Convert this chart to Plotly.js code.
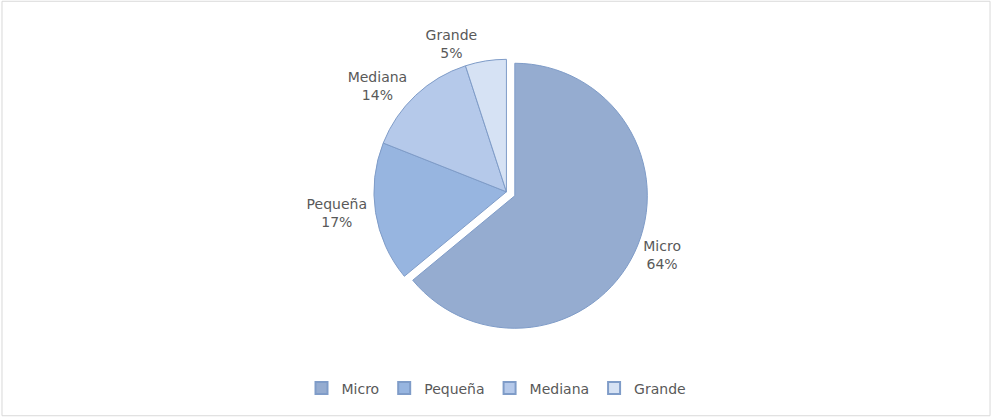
<!DOCTYPE html>
<html>
<head>
<meta charset="utf-8">
<script src="https://cdn.plot.ly/plotly-3.0.1.min.js"></script>
<style>html,body{margin:0;padding:0;background:#fff}#chart{width:993px;height:417px}</style>
</head>
<body>
<div id="chart"></div>
<script>
const labels = ["Micro", "Pequeña", "Mediana", "Grande"];
const shares = [64, 17, 14, 5];
const sliceColors = ["#95acd0", "#97b5e0", "#b5c9ea", "#d6e2f4"];
const pulls = [0.07, 0, 0, 0];

const trace = {
  type: "pie",
  labels: labels,
  values: shares,
  sort: false,
  direction: "clockwise",
  rotation: 0,
  pull: pulls,
  marker: { colors: sliceColors, line: { color: "#7f9cc8", width: 1 } },
  textposition: "outside",
  texttemplate: "%{label}<br>%{percent:.0%}",
  textfont: { family: "DejaVu Sans", size: 14, color: "#595959" },
  domain: { x: [0.3, 0.72], y: [0.2, 0.88] },
  hoverinfo: "label+percent"
};

const layout = {
  width: 993,
  height: 417,
  margin: { l: 0, r: 0, t: 0, b: 0 },
  paper_bgcolor: "#fff",
  showlegend: true,
  legend: {
    orientation: "h",
    x: 0.5, xanchor: "center",
    y: 0.03, yanchor: "bottom",
    font: { family: "DejaVu Sans", size: 14, color: "#595959" },
    itemwidth: 30,
    itemsizing: "constant"
  },
  shapes: [{
    type: "rect", xref: "paper", yref: "paper",
    x0: 0.002, x1: 0.997, y0: 0.003, y1: 0.997,
    line: { color: "#d9d9d9", width: 1 }
  }]
};

Plotly.newPlot("chart", [trace], layout, { displayModeBar: false });
</script>
</body>
</html>
